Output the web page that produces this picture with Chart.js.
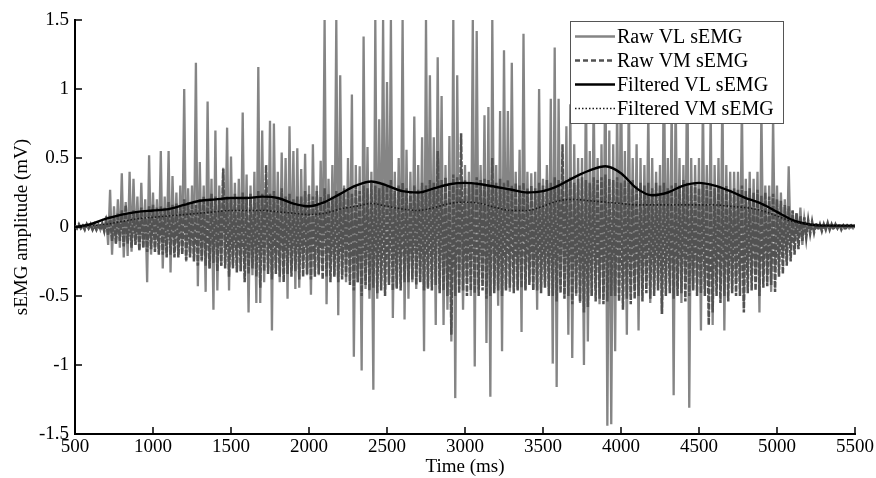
<!DOCTYPE html>
<html lang="en">
<head>
<meta charset="UTF-8">
<title>sEMG amplitude</title>
<style>
  html, body { margin: 0; padding: 0; background: #fff; }
</style>
</head>
<body>
<canvas id="emgChart" width="876" height="478"></canvas>
<script src="https://cdn.jsdelivr.net/npm/chart.js"></script>
<script>
  // raw signals sampled every 12.5 ms from 500 ms
  const rawStart = 500;
  const rawStep = 12.5;

  const rawVL = [
    0.01,-0.01,0.01,-0.01,0.01,-0.01,0.02,-0.01,0.01,-0.02,0.02,-0.02,   // 500
    0.02,-0.02,0.03,-0.03,0.08,-0.13,0.27,-0.2,      // 650
    0.15,-0.12,0.2,-0.15,0.39,-0.22,0.18,-0.21,      // 750
    0.40,-0.18,0.35,-0.12,0.22,-0.17,0.32,-0.15,     // 850
    0.2,-0.40,0.52,-0.2,0.25,-0.16,0.2,-0.18,        // 950
    0.55,-0.3,0.22,-0.2,0.55,-0.33,0.37,-0.15,       // 1050
    0.25,-0.2,0.3,-0.18,1.0,-0.25,0.28,-0.2,         // 1150
    0.3,-0.22,1.19,-0.43,0.47,-0.25,0.3,-0.47,       // 1250
    0.91,-0.3,0.35,-0.6,0.70,-0.46,0.3,-0.28,        // 1350
    0.43,-0.25,0.72,-0.46,0.51,-0.28,0.32,-0.3,      // 1450
    0.35,-0.32,0.83,-0.3,0.38,-0.62,0.3,-0.35,       // 1550
    0.4,-0.55,1.16,-0.55,0.70,-0.4,0.35,-0.3,        // 1650
    0.77,-0.75,0.75,-0.3,0.4,-0.4,0.54,-0.35,        // 1750
    0.5,-0.52,0.73,-0.3,0.55,-0.45,0.57,-0.44,       // 1850
    0.42,-0.3,0.53,-0.35,0.3,-0.49,0.60,-0.3,        // 1950
    0.3,-0.35,0.48,-0.3,1.5,-0.56,0.35,-0.3,         // 2050
    0.45,-0.35,1.5,-0.64,1.1,-0.35,0.3,-0.4,         // 2150
    0.5,-0.4,0.96,-0.94,0.45,-0.4,0.44,-1.04,        // 2250
    1.38,-0.45,0.58,-0.52,0.4,-1.18,1.5,-0.52,       // 2350
    0.78,-0.4,1.5,-0.45,1.05,-0.4,1.5,-0.66,         // 2450
    0.4,-0.45,0.5,-0.4,1.5,-0.67,0.56,-0.52,         // 2550
    0.4,-0.4,0.8,-0.45,0.45,-0.4,0.65,-0.9,          // 2650
    1.5,-0.45,1.1,-0.4,0.65,-0.71,1.23,-0.45,        // 2750
    0.95,-0.71,0.45,-0.6,0.66,-0.83,1.5,-1.24,       // 2850
    1.1,-0.45,0.4,-0.6,0.45,-0.4,0.4,-0.5,           // 2950
    1.5,-1.01,1.42,-0.45,0.45,-0.4,0.81,-0.84,       // 3050
    0.87,-1.23,1.5,-0.45,0.45,-0.57,0.84,-0.9,       // 3150
    1.28,-0.45,0.84,-0.47,1.19,-0.4,0.4,-0.45,       // 3250
    0.56,-0.76,1.4,-0.45,0.4,-0.4,0.39,-0.45,        // 3350
    0.4,-0.6,1.0,-0.45,0.35,-0.4,0.45,-0.45,         // 3450
    0.93,-0.99,1.3,-1.16,0.93,-0.45,0.4,-0.5,        // 3550
    0.73,-0.78,0.89,-0.95,0.6,-0.5,0.5,-0.55,        // 3650
    0.5,-1.0,1.1,-0.83,0.55,-0.5,0.95,-0.45,         // 3750
    0.5,-0.56,0.6,-0.5,1.35,-1.44,0.7,-1.43,         // 3850
    0.6,-0.9,0.9,-0.5,1.2,-0.5,0.55,-0.78,           // 3950
    1.0,-0.5,0.5,-0.45,0.6,-0.75,0.5,-0.45,          // 4050
    0.45,-0.4,0.85,-0.55,0.5,-0.45,0.4,-0.4,         // 4150
    0.45,-0.63,1.3,-0.45,0.5,-0.4,0.9,-1.22,         // 4250
    1.0,-0.45,0.5,-0.55,0.45,-0.4,1.4,-1.31,         // 4350
    0.5,-0.45,0.45,-0.4,0.5,-0.75,0.95,-0.45,        // 4450
    0.45,-0.4,0.85,-0.71,0.45,-0.4,0.5,-0.45,        // 4550
    1.0,-0.75,0.45,-0.4,0.4,-0.45,0.4,-0.4,          // 4650
    0.4,-0.4,0.9,-0.55,0.35,-0.35,0.4,-0.35,         // 4750
    0.35,-0.35,0.4,-0.62,0.85,-0.35,0.3,-0.35,       // 4850
    0.3,-0.47,0.8,-0.3,0.3,-0.25,0.25,-0.22,         // 4950
    0.2,-0.25,0.44,-0.15,0.12,-0.1,0.1,-0.08,        // 5050
    0.14,-0.13,0.06,-0.05,0.04,-0.03,0.02,-0.02,     // 5150
    0.01,-0.01,0.01,-0.01,0.01,-0.01,0.01,-0.01,0.01,-0.01,
    0.01,-0.01,0.01,-0.01,0.01,-0.01,0.01,-0.01,0.01,-0.01,0.01   // 5250
  ];

  const rawVM = [
    0.01,-0.01,0.02,-0.01,0.01,-0.02,0.02,-0.01,0.02,-0.02,0.01,-0.02,   // 500
    0.01,-0.02,0.02,-0.03,0.04,-0.06,0.08,-0.1,      // 650
    0.08,-0.12,0.1,-0.1,0.12,-0.14,0.16,-0.12,       // 750
    0.1,-0.15,0.12,-0.13,0.11,-0.17,0.14,-0.15,      // 850
    0.12,-0.18,0.15,-0.16,0.16,-0.18,0.14,-0.2,      // 950
    0.15,-0.2,0.14,-0.22,0.18,-0.2,0.16,-0.22,       // 1050
    0.17,-0.22,0.15,-0.2,0.2,-0.24,0.18,-0.22,       // 1150
    0.18,-0.25,0.16,-0.28,0.2,-0.24,0.22,-0.28,      // 1250
    0.2,-0.3,0.24,-0.26,0.22,-0.32,0.2,-0.28,        // 1350
    0.42,-0.3,0.22,-0.36,0.2,-0.3,0.24,-0.33,        // 1450
    0.22,-0.32,0.25,-0.4,0.22,-0.34,0.24,-0.3,       // 1550
    0.22,-0.36,0.26,-0.44,0.24,-0.32,0.45,-0.34,     // 1650
    0.24,-0.38,0.26,-0.34,0.22,-0.36,0.28,-0.4,      // 1750
    0.22,-0.34,0.24,-0.36,0.2,-0.32,0.22,-0.38,      // 1850
    0.22,-0.36,0.26,-0.34,0.24,-0.38,0.22,-0.36,     // 1950
    0.26,-0.34,0.22,-0.38,0.28,-0.36,0.24,-0.4,      // 2050
    0.22,-0.36,0.26,-0.4,0.24,-0.38,0.28,-0.36,      // 2150
    0.26,-0.42,0.24,-0.46,0.3,-0.4,0.26,-0.5,        // 2250
    0.3,-0.42,0.28,-0.46,0.32,-0.44,0.3,-0.48,       // 2350
    0.28,-0.46,0.32,-0.5,0.3,-0.42,0.34,-0.46,       // 2450
    0.26,-0.44,0.3,-0.46,0.32,-0.4,0.28,-0.4,        // 2550
    0.26,-0.38,0.3,-0.42,0.27,-0.4,0.32,-0.46,       // 2650
    0.3,-0.44,0.34,-0.46,0.32,-0.42,0.55,-0.48,      // 2750
    0.34,-0.46,0.36,-0.5,0.32,-0.78,0.38,-0.5,       // 2850
    0.36,-0.48,0.68,-0.46,0.34,-0.5,0.32,-0.46,      // 2950
    0.32,-0.48,0.36,-0.5,0.34,-0.46,0.35,-0.52,      // 3050
    0.34,-0.5,0.5,-0.48,0.32,-0.46,0.35,-0.5,        // 3150
    0.32,-0.46,0.34,-0.44,0.3,-0.48,0.32,-0.46,      // 3250
    0.3,-0.44,0.32,-0.46,0.28,-0.42,0.3,-0.46,       // 3350
    0.28,-0.46,0.32,-0.48,0.3,-0.44,0.34,-0.5,       // 3450
    0.32,-0.5,0.36,-0.54,0.34,-0.48,0.6,-0.52,       // 3550
    0.34,-0.5,0.36,-0.56,0.32,-0.48,0.35,-0.54,      // 3650
    0.36,-0.62,0.34,-0.58,0.32,-0.5,0.36,-0.54,      // 3750
    0.34,-0.52,0.36,-0.56,0.38,-0.54,0.35,-0.5,      // 3850
    0.34,-0.5,0.36,-0.54,0.32,-0.6,0.34,-0.52,       // 3950
    0.32,-0.56,0.34,-0.52,0.3,-0.5,0.32,-0.54,       // 4050
    0.3,-0.48,0.32,-0.52,0.28,-0.5,0.32,-0.46,       // 4150
    0.3,-0.63,0.32,-0.5,0.28,-0.48,0.3,-0.52,        // 4250
    0.32,-0.5,0.3,-0.48,0.34,-0.54,0.32,-0.5,        // 4350
    0.3,-0.46,0.32,-0.5,0.28,-0.48,0.32,-0.5,        // 4450
    0.3,-0.71,0.32,-0.62,0.28,-0.5,0.3,-0.55,        // 4550
    0.28,-0.5,0.3,-0.54,0.27,-0.48,0.28,-0.5,        // 4650
    0.27,-0.5,0.3,-0.62,0.26,-0.48,0.28,-0.46,       // 4750
    0.25,-0.46,0.27,-0.5,0.23,-0.44,0.25,-0.43,      // 4850
    0.22,-0.42,0.24,-0.47,0.2,-0.36,0.19,-0.34,      // 4950
    0.16,-0.28,0.15,-0.25,0.12,-0.2,0.1,-0.16,       // 5050
    0.08,-0.1,0.07,-0.08,0.05,-0.05,0.04,-0.04,      // 5150
    0.03,-0.02,0.02,-0.03,0.02,-0.02,0.03,-0.02,0.02,-0.02,
    0.02,-0.01,0.02,-0.02,0.01,-0.02,0.01,-0.01,0.01,-0.01,0.01   // 5250
  ];

  // filtered envelopes, one value every 100 ms from 500 ms
  const filtStart = 500;
  const filtStep = 100;
  const filtVL = [
    0, 0.02, 0.06, 0.09, 0.11, 0.12, 0.13, 0.16, 0.19, 0.2,
    0.21, 0.21, 0.22, 0.21, 0.17, 0.15, 0.18, 0.24, 0.3, 0.33,
    0.3, 0.26, 0.25, 0.28, 0.31, 0.32, 0.31, 0.29, 0.27, 0.25,
    0.26, 0.3, 0.36, 0.41, 0.44, 0.39, 0.28, 0.23, 0.25, 0.3,
    0.32, 0.3, 0.26, 0.21, 0.17, 0.11, 0.05, 0.02, 0.01, 0.01, 0.01
  ];
  const filtVM = [
    0, 0.01, 0.02, 0.04, 0.06, 0.07, 0.08, 0.09, 0.1, 0.11,
    0.12, 0.12, 0.12, 0.11, 0.1, 0.09, 0.1, 0.13, 0.15, 0.17,
    0.15, 0.13, 0.12, 0.14, 0.17, 0.18, 0.17, 0.14, 0.12, 0.12,
    0.15, 0.19, 0.2, 0.19, 0.18, 0.17, 0.16, 0.16, 0.16, 0.16,
    0.16, 0.16, 0.15, 0.14, 0.12, 0.08, 0.04, 0.02, 0.01, 0.01, 0.01
  ];

  const xTicks = [500, 1000, 1500, 2000, 2500, 3000, 3500, 4000, 4500, 5000, 5500];
  const yTicks = [-1.5, -1, -0.5, 0, 0.5, 1, 1.5];
  const seriesLabels = ['Raw VL sEMG', 'Raw VM sEMG', 'Filtered VL sEMG', 'Filtered VM sEMG'];

  const serif = "'Liberation Serif', 'Times New Roman', serif";

  function toPoints(start, step, vals) {
    return vals.map((v, i) => ({ x: start + step * i, y: v }));
  }

  // MATLAB style ticks pointing into the plot
  const innerTicks = {
    id: 'innerTicks',
    afterDatasetsDraw(chart) {
      const ctx = chart.ctx;
      const a = chart.chartArea;
      const xs = chart.scales.x, ys = chart.scales.y;
      ctx.save();
      ctx.strokeStyle = '#000';
      ctx.lineWidth = 1.5;
      ctx.beginPath();
      xTicks.forEach(v => {
        const px = Math.round(xs.getPixelForValue(v));
        ctx.moveTo(px, a.bottom);
        ctx.lineTo(px, a.bottom - 7);
      });
      yTicks.forEach(v => {
        const py = Math.round(ys.getPixelForValue(v));
        ctx.moveTo(a.left, py);
        ctx.lineTo(a.left + 7, py);
      });
      ctx.stroke();
      ctx.restore();
    }
  };

  // boxed legend in the top right corner
  const boxLegend = {
    id: 'boxLegend',
    afterDatasetsDraw(chart) {
      const ctx = chart.ctx;
      const a = chart.chartArea;
      const x0 = a.right - 285, y0 = a.top + 1, w = 213, h = 102;
      ctx.save();
      ctx.fillStyle = '#fff';
      ctx.fillRect(x0, y0, w, h);
      ctx.strokeStyle = '#555';
      ctx.lineWidth = 1;
      ctx.strokeRect(x0 + 0.5, y0 + 0.5, w, h);
      ctx.font = '20px ' + serif;
      ctx.textBaseline = 'middle';
      ctx.textAlign = 'left';
      chart.data.datasets.forEach((ds, i) => {
        const y = Math.round(y0 + 15 + i * 24) + 0.5;
        ctx.beginPath();
        ctx.strokeStyle = ds.borderColor;
        ctx.lineWidth = Math.min(ds.borderWidth, 2.5);
        ctx.setLineDash(ds.legendDash || ds.borderDash || []);
        ctx.moveTo(x0 + 5, y);
        ctx.lineTo(x0 + 45, y);
        ctx.stroke();
        ctx.setLineDash([]);
        ctx.fillStyle = '#000';
        ctx.fillText(ds.label, x0 + 47, y + 1);
      });
      ctx.restore();
    }
  };

  const ctx = document.getElementById('emgChart').getContext('2d');
  new Chart(ctx, {
    type: 'line',
    data: {
      datasets: [
        {
          label: seriesLabels[0],
          data: toPoints(rawStart, rawStep, rawVL),
          borderColor: '#858585',
          borderWidth: 2.3,
          order: 3
        },
        {
          label: seriesLabels[1],
          data: toPoints(rawStart, rawStep, rawVM),
          borderColor: '#525252',
          borderWidth: 2.5,
          borderDash: [6, 1.5],
          legendDash: [5, 3],
          order: 2
        },
        {
          label: seriesLabels[2],
          data: toPoints(filtStart, filtStep, filtVL),
          borderColor: '#000000',
          borderWidth: 2.4,
          cubicInterpolationMode: 'monotone',
          order: 1
        },
        {
          label: seriesLabels[3],
          data: toPoints(filtStart, filtStep, filtVM),
          borderColor: '#1a1a1a',
          borderWidth: 1.6,
          borderDash: [1.5, 2],
          cubicInterpolationMode: 'monotone',
          order: 0
        }
      ]
    },
    options: {
      responsive: false,
      animation: false,
      devicePixelRatio: 1,
      elements: { point: { radius: 0 }, line: { tension: 0 } },
      layout: { padding: { top: 20, right: 21, left: 0, bottom: 0 } },
      plugins: {
        legend: { display: false },
        tooltip: { enabled: false }
      },
      scales: {
        x: {
          type: 'linear',
          min: 500,
          max: 5500,
          afterBuildTicks: s => { s.ticks = xTicks.map(v => ({ value: v })); },
          afterFit: s => { s.height = 44; },
          grid: { display: false, drawTicks: false },
          border: { display: true, color: '#000', width: 2 },
          ticks: {
            color: '#000',
            font: { family: serif, size: 19 },
            padding: 2,
            maxRotation: 0,
            autoSkip: false,
            callback: v => String(v)
          },
          title: {
            display: true,
            text: 'Time (ms)',
            color: '#000',
            font: { family: serif, size: 19 },
            padding: { top: 0, bottom: 0 }
          }
        },
        y: {
          min: -1.5,
          max: 1.5,
          afterBuildTicks: s => { s.ticks = yTicks.map(v => ({ value: v })); },
          afterFit: s => { s.width = 75; },
          grid: { display: false, drawTicks: false },
          border: { display: true, color: '#000', width: 2 },
          ticks: {
            color: '#000',
            font: { family: serif, size: 19 },
            padding: 6,
            callback: v => String(v)
          },
          title: {
            display: true,
            text: 'sEMG amplitude (mV)',
            color: '#000',
            font: { family: serif, size: 19 },
            padding: { top: 11, bottom: 0 }
          }
        }
      }
    },
    plugins: [innerTicks, boxLegend]
  });
</script>
</body>
</html>
